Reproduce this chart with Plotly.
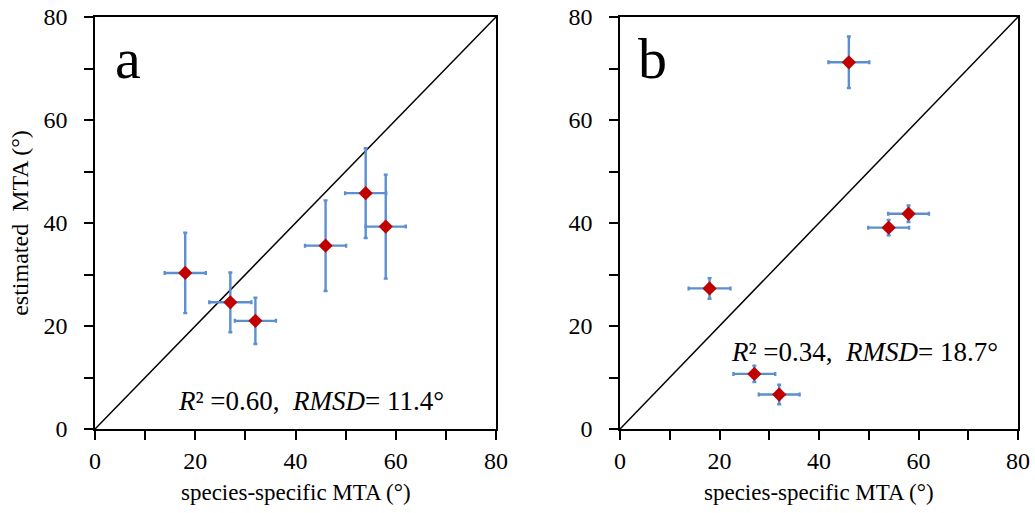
import plotly.graph_objects as go

# Panel a data
a_x = [18, 27, 32, 46, 54, 58]
a_y = [30.3, 24.6, 21.0, 35.6, 45.8, 39.3]
a_xerr = [4.1, 4.2, 4.1, 4.1, 4.1, 4.0]
a_yerr = [7.8, 5.8, 4.5, 8.8, 8.7, 10.1]

# Panel b data
b_x = [46, 58, 54, 18, 27, 32]
b_y = [71.2, 41.8, 39.1, 27.3, 10.7, 6.7]
b_xerr = [4.1, 4.1, 4.1, 4.2, 4.2, 4.1]
b_yerr = [5.0, 1.6, 1.5, 2.0, 1.6, 1.9]

diag = [0, 80]
ticks = [0, 20, 40, 60, 80]

FONT = "Liberation Serif, Times New Roman, serif"
ERR_COLOR = "#5B8FD0"
MARK_COLOR = "#C00000"

fig = go.Figure()

for xs, ys, xe, ye, xa, ya in [(a_x, a_y, a_xerr, a_yerr, "x", "y"),
                               (b_x, b_y, b_xerr, b_yerr, "x2", "y2")]:
    fig.add_trace(go.Scatter(x=diag, y=diag, mode="lines",
                             line=dict(color="black", width=1.5),
                             xaxis=xa, yaxis=ya, showlegend=False, hoverinfo="skip"))
    fig.add_trace(go.Scatter(
        x=xs, y=ys, mode="markers",
        marker=dict(symbol="diamond", color=MARK_COLOR, size=11),
        error_x=dict(type="data", array=xe, color=ERR_COLOR, thickness=2.4, width=2),
        error_y=dict(type="data", array=ye, color=ERR_COLOR, thickness=2.4, width=2),
        xaxis=xa, yaxis=ya, showlegend=False))

axis_common = dict(
    range=[0, 80], tickvals=ticks, ticks="outside", ticklen=9, tickwidth=1.5,
    tickcolor="black", showline=True, linecolor="black", linewidth=1.5,
    mirror=True, showgrid=False, zeroline=False, automargin=False,
    tickfont=dict(family=FONT, size=24, color="black"),
    minor=dict(ticks="outside", dtick=10, ticklen=9, tickwidth=1.5, tickcolor="black", showgrid=False),
)

xa_dom = [0, 401 / 923]
xb_dom = [525 / 923, 1]

fig.update_layout(
    width=1035, height=513,
    margin=dict(l=95, r=17, t=17, b=84),
    paper_bgcolor="white", plot_bgcolor="white",
    font=dict(family=FONT, color="black"),
    xaxis=dict(domain=xa_dom, anchor="y", **axis_common, ticklabelstandoff=0),
    yaxis=dict(domain=[0, 1], anchor="x", **axis_common, ticklabelstandoff=12,
               title=dict(text="estimated  MTA (°)", font=dict(family=FONT, size=24), standoff=8)),
    xaxis2=dict(domain=xb_dom, anchor="y2", **axis_common, ticklabelstandoff=0),
    yaxis2=dict(domain=[0, 1], anchor="x2", **axis_common, ticklabelstandoff=12),
)

x_title = "species-specific MTA (°)"
for dom in (xa_dom, xb_dom):
    fig.add_annotation(text=x_title, xref="paper", yref="paper",
                       x=(dom[0] + dom[1]) / 2, y=-0.155, xanchor="center", yanchor="middle",
                       showarrow=False, font=dict(family=FONT, size=23, color="black"))

fig.add_annotation(text="a", xref="x domain", yref="y domain", x=0.045, y=0.90,
                   xanchor="left", yanchor="middle", showarrow=False,
                   font=dict(family=FONT, size=58, color="black"))
fig.add_annotation(text="b", xref="x2 domain", yref="y2 domain", x=0.04, y=0.90,
                   xanchor="left", yanchor="middle", showarrow=False,
                   font=dict(family=FONT, size=58, color="black"))

fig.add_annotation(text="<i>R</i>² =0.60,  <i>RMSD</i>= 11.4°", xref="x", yref="y",
                   x=43, y=5.5, xanchor="center", yanchor="middle", showarrow=False,
                   font=dict(family=FONT, size=27, color="black"))
fig.add_annotation(text="<i>R</i>² =0.34,  <i>RMSD</i>= 18.7°", xref="x2", yref="y2",
                   x=49.2, y=15, xanchor="center", yanchor="middle", showarrow=False,
                   font=dict(family=FONT, size=27, color="black"))

fig.write_html("out.html")
